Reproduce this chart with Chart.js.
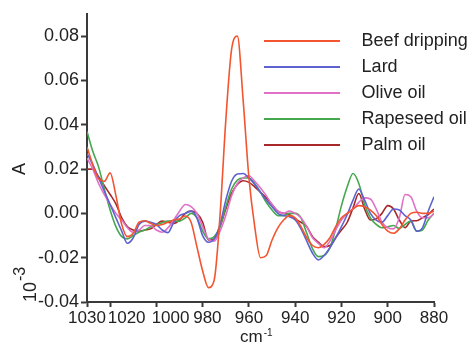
<!DOCTYPE html>
<html>
<head>
<meta charset="utf-8">
<script src="https://cdn.jsdelivr.net/npm/chart.js@4.4.0/dist/chart.umd.min.js"></script>
<style>
  html, body { margin: 0; padding: 0; background: #fff; }
</style>
</head>
<body>
<canvas id="mainChart" width="473" height="344"></canvas>
<script>
// wavenumber grid (cm-1), read left to right
const wavenumbers = [
    1030, 1027.5, 1025, 1022.5, 1020, 1017.5, 1015, 1012.5, 1010, 1007.5,
    1005, 1002.5, 1000, 997.5, 995, 992.5, 990, 987.5, 985, 982.5,
    980, 977.5, 975, 972.5, 970, 967.5, 965, 962.5, 960, 957.5,
    955, 952.5, 950, 947.5, 945, 942.5, 940, 937.5, 935, 932.5,
    930, 927.5, 925, 922.5, 920, 917.5, 915, 912.5, 910, 907.5,
    905, 902.5, 900, 897.5, 895, 892.5, 890, 887.5, 885, 882.5, 880
];

const seriesNames = ['Beef dripping', 'Lard', 'Olive oil', 'Rapeseed oil', 'Palm oil'];

const beefDripping = [
    0.030, 0.022, 0.0155, 0.0145, 0.0183, 0.008, -0.005, -0.0105, -0.009, -0.004,
    -0.0033, -0.0045, -0.0055, -0.005, -0.004, -0.003, -0.0025, -0.0012, -0.004, -0.015,
    -0.026, -0.0335, -0.030, -0.001, 0.042, 0.074, 0.080, 0.051, 0.016, -0.006,
    -0.020, -0.019, -0.012, -0.0065, -0.003, -0.001, -0.002, -0.006, -0.011, -0.0145,
    -0.0155, -0.014, -0.011, -0.006, -0.002, 0.000, 0.002, 0.0035, 0.003, 0.0015,
    -0.001, -0.005, -0.008, -0.009, -0.007, -0.003, 0.000, 0.0005, 0.000, 0.000, 0.001
];
const lard = [
    0.027, 0.022, 0.016, 0.010, 0.004, -0.002, -0.008, -0.0135, -0.011, -0.005,
    -0.0035, -0.004, -0.005, -0.0075, -0.0087, -0.004, -0.001, 0.000, 0.001, -0.002,
    -0.010, -0.013, -0.0115, -0.005, 0.006, 0.0145, 0.0178, 0.018, 0.016, 0.013,
    0.0095, 0.006, 0.003, 0.000, -0.001, -0.0015, -0.003, -0.007, -0.0125, -0.018,
    -0.021, -0.019, -0.0155, -0.011, -0.006, -0.0005, 0.006, 0.011, 0.006, 0.000,
    -0.003, -0.004, -0.001, 0.002, 0.0015, -0.001, -0.003, -0.008, -0.0065, 0.001, 0.0075
];
const oliveOil = [
    0.025, 0.020, 0.0135, 0.0085, 0.004, 0.000, -0.003, -0.0065, -0.0085, -0.0075,
    -0.0055, -0.0055, -0.0075, -0.0085, -0.0065, -0.003, 0.001, 0.004, 0.003, 0.000,
    -0.006, -0.0115, -0.0125, -0.008, -0.001, 0.008, 0.0135, 0.016, 0.017, 0.0145,
    0.0115, 0.008, 0.004, 0.001, 0.000, 0.001, 0.000, -0.002, -0.006, -0.011,
    -0.0135, -0.0155, -0.0125, -0.0075, -0.003, 0.000, 0.002, 0.005, 0.007, 0.0065,
    0.002, -0.004, -0.0065, -0.007, -0.002, 0.0085, 0.0075, 0.001, -0.002, -0.002, 0.000
];
const rapeseedOil = [
    0.037, 0.028, 0.021, 0.011, 0.0015, -0.006, -0.0105, -0.0115, -0.010, -0.0085,
    -0.0075, -0.006, -0.005, -0.0042, -0.0035, -0.0035, -0.0035, -0.002, 0.000, -0.002,
    -0.008, -0.0115, -0.0105, -0.006, 0.003, 0.011, 0.015, 0.016, 0.016, 0.0135,
    0.0095, 0.005, 0.0015, -0.001, -0.001, 0.000, 0.000, -0.002, -0.009, -0.016,
    -0.0195, -0.019, -0.0155, -0.007, 0.0035, 0.012, 0.018, 0.0135, 0.004, -0.002,
    -0.005, -0.0065, -0.006, -0.0055, -0.0068, -0.005, -0.0035, -0.008, -0.0075, -0.003, 0.000
];
const palmOil = [
    0.020, 0.020, 0.0165, 0.0125, 0.0085, 0.0043, -0.002, -0.006, -0.0075, -0.008,
    -0.0075, -0.007, -0.005, -0.0035, -0.004, -0.0045, -0.003, 0.000, 0.001, 0.000,
    -0.004, -0.012, -0.0115, -0.006, 0.002, 0.009, 0.013, 0.0147, 0.014, 0.012,
    0.0095, 0.007, 0.004, 0.001, 0.000, -0.0005, -0.0025, -0.004, -0.006, -0.0105,
    -0.013, -0.015, -0.0145, -0.011, -0.0075, -0.004, 0.0025, 0.009, 0.002, -0.003,
    -0.0025, 0.000, 0.0035, 0.002, -0.003, -0.0065, -0.0035, -0.0033, -0.002, -0.0005, 0.002
];

const xTickValues = [1030, 1020, 1000, 980, 960, 940, 920, 900, 880];
const yMin = -0.04;
const yMax = 0.09;

const seriesValues = [beefDripping, lard, oliveOil, rapeseedOil, palmOil];
const seriesColors = ['#f2552f', '#5d62d0', '#e070c8', '#45a84f', '#a8282a'];

// the original puts some 4-digit labels right of their tick
const xLabelShift = { 1020: 7, 1000: 6, 980: 2 };

const fontFamily = '"Liberation Sans", Arial, sans-serif';
const axisColor = '#3a3a3a';
const textColor = '#222';

Chart.defaults.font.family = fontFamily;
Chart.defaults.color = textColor;

// move the legend into the upper right of the plot
const legendSpot = {
    id: 'legendSpot',
    afterLayout(chart) {
        const lg = chart.legend;
        const pad = lg.options.labels.padding;
        lg.left = 264 - pad;
        lg.top = 32 - pad;
        lg.right = lg.left + lg.width;
        lg.bottom = lg.top + 300;
    }
};

// "A", "10^-3" and "cm^-1" axis notes
const axisNotes = {
    id: 'axisNotes',
    afterDraw(chart) {
        const ctx = chart.ctx;
        ctx.save();
        ctx.fillStyle = textColor;
        ctx.textBaseline = 'alphabetic';
        ctx.textAlign = 'left';

        ctx.save();
        ctx.translate(25, 175);
        ctx.rotate(-Math.PI / 2);
        ctx.font = '18px ' + fontFamily;
        ctx.fillText('A', 0, 0);
        ctx.restore();

        ctx.save();
        ctx.translate(36, 302);
        ctx.rotate(-Math.PI / 2);
        ctx.font = '18px ' + fontFamily;
        ctx.fillText('10', 0, 0);
        const w = ctx.measureText('10').width;
        ctx.font = '16px ' + fontFamily;
        ctx.fillText('-3', w + 1, -11);
        ctx.restore();

        ctx.font = '17px ' + fontFamily;
        ctx.fillText('cm', 240, 342);
        const cw = ctx.measureText('cm').width;
        ctx.font = '10px ' + fontFamily;
        ctx.fillText('-1', 240 + cw + 1, 336);
        ctx.restore();
    }
};

const datasets = seriesNames.map((name, i) => ({
    label: name,
    data: seriesValues[i].map((v, j) => ({ x: wavenumbers[j], y: v })),
    borderColor: seriesColors[i],
    backgroundColor: seriesColors[i],
    borderWidth: 1.6,
    pointRadius: 0,
    fill: false,
    cubicInterpolationMode: 'monotone'
}));

const ctx = document.getElementById('mainChart').getContext('2d');
const chartInstance = new Chart(ctx, {
    type: 'line',
    data: { datasets: datasets },
    options: {
        responsive: false,
        animation: false,
        layout: {
            padding: { left: 0, top: 14, right: 39, bottom: 0 }
        },
        scales: {
            x: {
                type: 'linear',
                reverse: true,
                min: 880,
                max: 1030,
                afterBuildTicks: axis => {
                    axis.ticks = xTickValues.map(v => ({ value: v }));
                },
                afterFit: scale => { scale.height = 42; },
                border: { display: true, color: axisColor, width: 2 },
                grid: {
                    display: true,
                    drawOnChartArea: false,
                    drawTicks: true,
                    tickLength: 5,
                    tickColor: axisColor,
                    tickWidth: 2
                },
                ticks: {
                    autoSkip: false,
                    maxRotation: 0,
                    minRotation: 0,
                    padding: 1,
                    color: textColor,
                    font: { size: 17 },
                    callback: function(value) {
                        const pad = ' '.repeat(xLabelShift[value] || 0);
                        return pad + String(value);
                    }
                }
            },
            y: {
                min: yMin,
                max: yMax,
                afterFit: scale => { scale.width = 87; },
                border: { display: true, color: axisColor, width: 2 },
                grid: {
                    display: true,
                    drawOnChartArea: false,
                    drawTicks: true,
                    tickLength: 6,
                    tickColor: axisColor,
                    tickWidth: 2
                },
                ticks: {
                    stepSize: 0.01,
                    padding: 2,
                    color: textColor,
                    font: { size: 18 },
                    callback: function(value) {
                        const hundredths = Math.round(value * 100);
                        if (hundredths % 2 !== 0) return '';
                        return (hundredths / 100).toFixed(2);
                    }
                }
            }
        },
        plugins: {
            legend: {
                position: 'chartArea',
                align: 'start',
                labels: {
                    boxWidth: 76,
                    boxHeight: 2,
                    padding: 8,
                    color: textColor,
                    font: { size: 18 },
                    generateLabels: chart => chart.data.datasets.map((ds, i) => ({
                        text: '\u2002\u2009' + ds.label,
                        fillStyle: ds.borderColor,
                        strokeStyle: ds.borderColor,
                        lineWidth: 0,
                        hidden: false,
                        datasetIndex: i,
                        fontColor: textColor
                    }))
                }
            },
            tooltip: { enabled: false },
            title: { display: false }
        }
    },
    plugins: [legendSpot, axisNotes]
});
</script>
</body>
</html>
